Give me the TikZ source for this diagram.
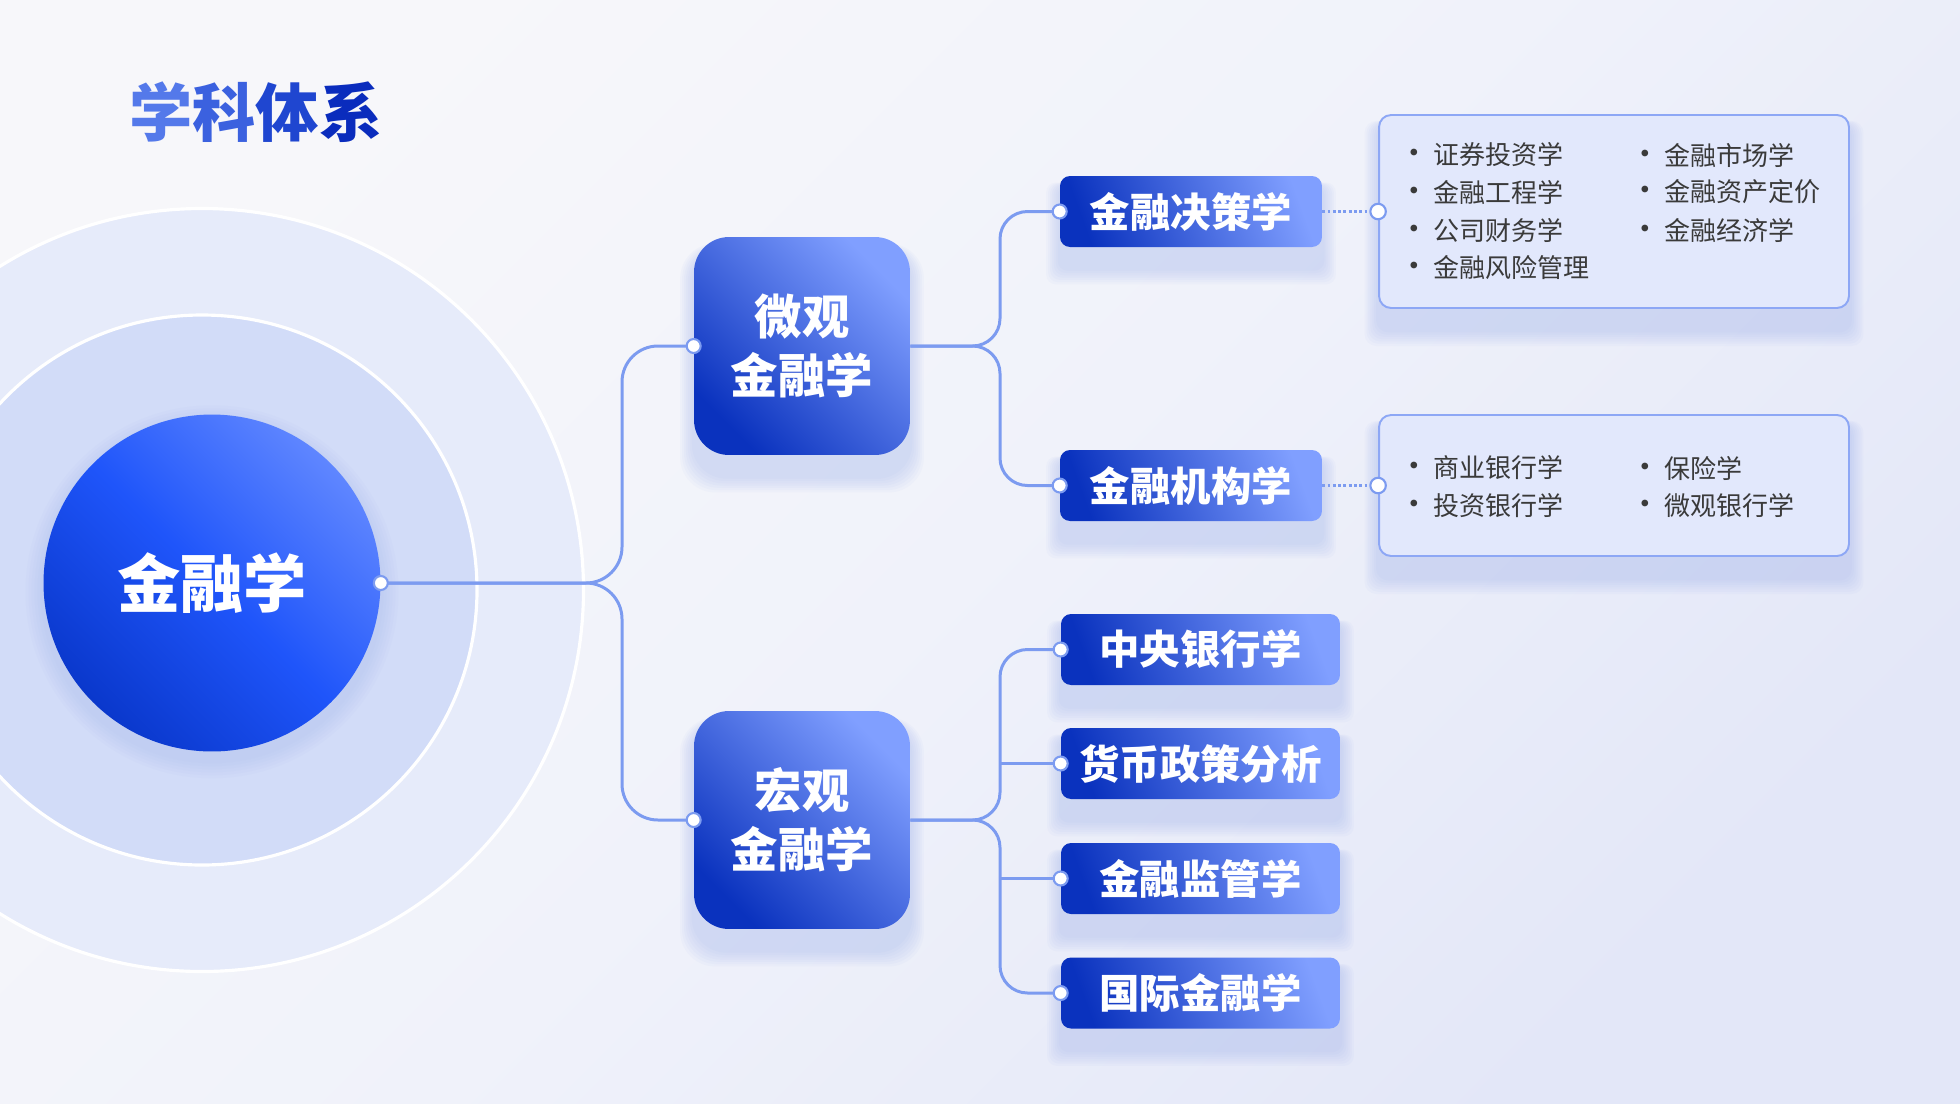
\documentclass[tikz,border=0pt]{standalone}
\usepackage{fontspec}
\setmainfont{Noto Sans CJK SC}
\usetikzlibrary{positioning}
\definecolor{bgA}{HTML}{F7F7FA}
\definecolor{bgB}{HTML}{F0F2FA}
\definecolor{bgD}{HTML}{E3E7F8}
\definecolor{ringOut}{HTML}{E6EBFA}
\definecolor{ringIn}{HTML}{D2DCF8}
\definecolor{rootA}{HTML}{5F86FF}
\definecolor{rootB}{HTML}{1F55FA}
\definecolor{rootC}{HTML}{0A38CC}
\definecolor{boxA}{HTML}{809FFF}
\definecolor{boxB}{HTML}{0A32BE}
\definecolor{linkblue}{HTML}{7C9BF0}
\definecolor{listfill}{HTML}{E2E8FC}
\definecolor{listedge}{HTML}{8DA7F5}
\definecolor{itemgray}{HTML}{3A3A3A}
\definecolor{shadowblue}{HTML}{9DB0EC}
\definecolor{tA}{HTML}{5479EA}
\definecolor{tB}{HTML}{3B61DF}
\definecolor{tC}{HTML}{1F46D0}
\definecolor{tD}{HTML}{0A2CBD}
\pgfdeclarelayer{bg}
\pgfdeclarelayer{shadow}
\pgfsetlayers{bg,shadow,main}
% soft glow under a box: node name, corner radius
\newcommand\softshadow[2]{%
  \begin{pgfonlayer}{shadow}
  \foreach \k in {1,...,7}
    \fill[shadowblue, opacity=0.06, rounded corners=#2]
      ([xshift=-\k*1.1pt, yshift=-12pt-\k*1.3pt]#1.south west) rectangle ([xshift=\k*1.1pt, yshift=-6pt+\k*0.3pt]#1.north east);
  \end{pgfonlayer}}
\begin{document}
\begin{tikzpicture}[x=0.02cm, y=-0.02cm,
  link/.style={draw=linkblue, line width=1.7pt, rounded corners=0.72cm},
  dot/.style={circle, fill=white, draw=linkblue, line width=1.2pt, inner sep=0pt, minimum size=0.28cm},
  rootnode/.style={circle, minimum size=6.74cm, text=white, font=\bfseries\fontsize{36pt}{40pt}\selectfont, top color=rootA, bottom color=rootC, middle color=rootB, shading angle=-45},
  bigbox/.style={rounded corners=0.7cm, minimum width=4.32cm, minimum height=4.36cm, text=white, align=center, font=\bfseries\fontsize{27pt}{33.6pt}\selectfont, top color=boxA, bottom color=boxB, shading angle=-45},
  subbox/.style={rounded corners=0.2cm, minimum height=1.42cm, text=white, font=\bfseries\fontsize{23pt}{26pt}\selectfont, top color=boxA, bottom color=boxB, shading angle=-70},
  listbox/.style={rounded corners=0.24cm, fill=listfill, draw=listedge, line width=1.1pt, minimum width=9.4cm},
  item/.style={anchor=west, inner sep=0pt, text=itemgray, font=\fontsize{14.8pt}{18pt}\selectfont}]
\useasboundingbox (0,0) rectangle (1960,1103);
% backdrop and rings
\begin{pgfonlayer}{bg}
\shade[top color=bgA, bottom color=bgD, middle color=bgB, shading angle=45] (0,0) rectangle (1960,1103);
\clip (0,0) rectangle (1960,1103);
\fill[ringOut] (202,590) circle[radius=381.5];
\draw[white, line width=1.8pt] (202,590) circle[radius=381.5];
\fill[ringIn] (202,590) circle[radius=275];
\draw[white, line width=1.8pt] (202,590) circle[radius=275];
\foreach \k in {1,...,6} \fill[shadowblue, opacity=0.05] ([yshift=-5pt]212,583) circle[radius=168.5+\k*3];
\end{pgfonlayer}

\node[anchor=west, inner sep=0pt, font=\bfseries\fontsize{36pt}{40pt}\selectfont] (title) at (129,112) {\textcolor{tA}{学}\textcolor{tB}{科}\textcolor{tC}{体}\textcolor{tD}{系}};

\node[rootnode] (root) at (212,583) {金融学};
\node[bigbox] (micro) at (802,346) {微观\\金融学};
\node[bigbox] (macro) at (802,820) {宏观\\金融学};

\node[subbox, minimum width=5.24cm] (jue) at (1191,211.5) {金融决策学};
\node[subbox, minimum width=5.24cm] (jigou) at (1191,485.5) {金融机构学};
\node[subbox, minimum width=5.58cm] (zhongyang) at (1200.5,649.5) {中央银行学};
\node[subbox, minimum width=5.58cm] (huobi) at (1200.5,763.5) {货币政策分析};
\node[subbox, minimum width=5.58cm] (jianguan) at (1200.5,878.5) {金融监管学};
\node[subbox, minimum width=5.58cm] (guoji) at (1200.5,993) {国际金融学};

\node[listbox, minimum height=3.86cm] (list1) at (1614,211.5) {};
\node[listbox, minimum height=2.82cm] (list2) at (1614,485.5) {};
\foreach \x/\y/\txt in {1408/155/证券投资学,1408/192/金融工程学,1408/230/公司财务学,1408/268/金融风险管理,1639/155/金融市场学,1639/192/金融资产定价,1639/230/金融经济学,1408/468/商业银行学,1408/506/投资银行学,1639/468/保险学,1639/506/微观银行学}
  \node[item] (it-\x-\y) at (\x,\y) {\makebox[0.22cm]{\fontsize{18pt}{18pt}\selectfont •}\hspace{0.28cm}\txt};

\foreach \n/\r in {micro/0.7cm,macro/0.7cm,jue/0.2cm,jigou/0.2cm,zhongyang/0.2cm,huobi/0.2cm,jianguan/0.2cm,guoji/0.2cm,list1/0.24cm,list2/0.24cm} {\softshadow{\n}{\r}}

% branches
\coordinate (jr) at (622,583);
\coordinate (jm) at (1000,346);
\coordinate (jM) at (1000,820);
\draw[link] (root.east) -- (jr) |- (micro.west);
\draw[link] (root.east) -- (jr) |- (macro.west);
\draw[link, rounded corners=0.55cm] (micro.east) -- (jm) |- (jue.west);
\draw[link, rounded corners=0.55cm] (micro.east) -- (jm) |- (jigou.west);
\draw[link, rounded corners=0.55cm] (macro.east) -- (jM) |- (zhongyang.west);
\draw[link, rounded corners=0.55cm] (macro.east) -- (jM) |- (guoji.west);
\draw[link] (jM |- huobi.west) -- (huobi.west);
\draw[link] (jM |- jianguan.west) -- (jianguan.west);
\draw[link, dash pattern=on 1.6pt off 1.4pt] (jue.east) -- (list1.west);
\draw[link, dash pattern=on 1.6pt off 1.4pt] (jigou.east) -- (list2.west);

\foreach \n in {root.east,micro.west,macro.west,jue.west,jigou.west,zhongyang.west,huobi.west,jianguan.west,guoji.west} \node[dot] (d-\n) at (\n) {};
\node[dot, minimum size=0.31cm] (d-list1) at (list1.west) {};
\node[dot, minimum size=0.31cm] (d-list2) at (list2.west) {};
\end{tikzpicture}
\end{document}
